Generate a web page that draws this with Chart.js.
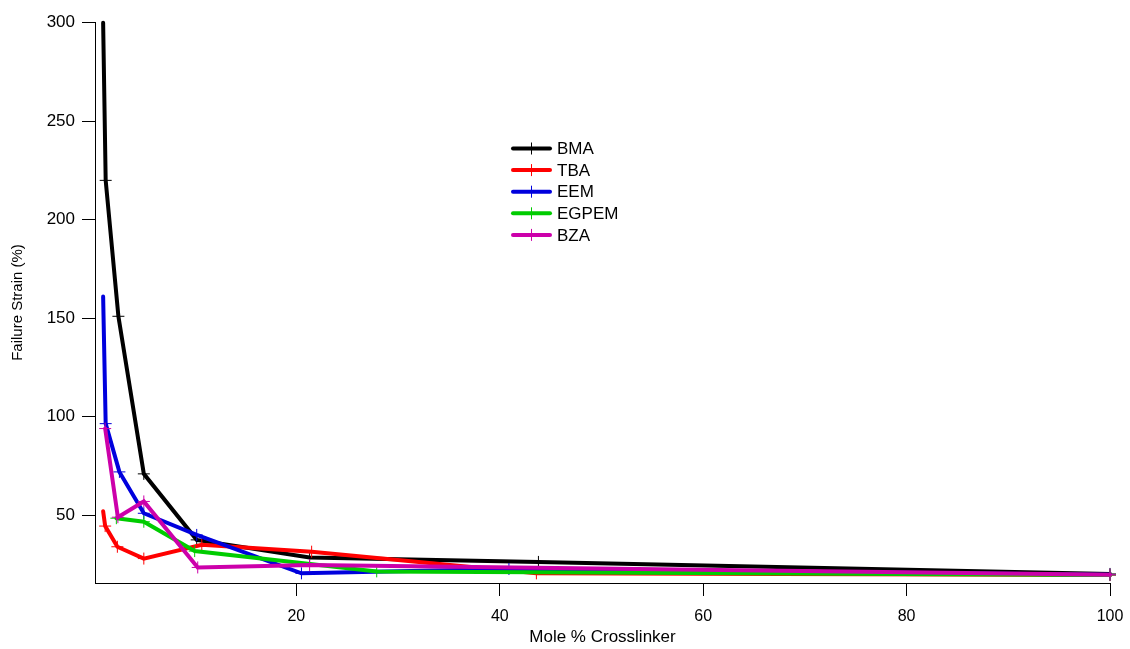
<!DOCTYPE html>
<html>
<head>
<meta charset="utf-8">
<script src="https://cdn.jsdelivr.net/npm/chart.js@4.4.1/dist/chart.umd.min.js"></script>
<style>
  html, body { margin: 0; padding: 0; background: #ffffff; }
  #wrap { width: 1130px; height: 649px; }
</style>
</head>
<body>
<div id="wrap"><canvas id="chart" width="1130" height="649"></canvas></div>
<script>
// Failure strain versus crosslinker content for five crosslinkers
const seriesNames = ['BMA', 'TBA', 'EEM', 'EGPEM', 'BZA'];
const seriesColors = ['#000000', '#ff0000', '#0000dd', '#00cc00', '#cc00aa'];

const bmaX = [1, 1.25, 2.5, 5, 10.2, 21.3, 43.8, 100];
const bmaY = [300, 220, 151, 71, 37.5, 28.6, 26.3, 20.2];

const tbaX = [1, 1.2, 2.4, 5, 10.7, 21.5, 43.6, 100];
const tbaY = [52, 44.5, 34, 28, 35, 31.5, 20.5, 19.6];

const eemX = [1, 1.25, 2.6, 5, 10.2, 20.5, 40.9, 100];
const eemY = [161, 96.5, 72, 51, 40, 20.5, 22.7, 19.8];

const egpemX = [2.3, 5, 10, 27.9, 100];
const egpemY = [48.5, 46.7, 31.8, 21.5, 19.7];

const bzaX = [1.2, 2.45, 5, 10.3, 21.3, 100];
const bzaY = [94, 49, 57, 23.5, 24.7, 19.8];

const xTicks = [20, 40, 60, 80, 100];
const yTicks = [50, 100, 150, 200, 250, 300];

const xValues = [bmaX, tbaX, eemX, egpemX, bzaX];
const yValues = [bmaY, tbaY, eemY, egpemY, bzaY];

// series whose first point is drawn without a cross marker
const noFirstMarker = ['BMA', 'TBA', 'EEM'];

const datasets = seriesNames.map((name, i) => ({
  label: name,
  data: xValues[i].map((x, j) => ({ x: x, y: yValues[i][j] })),
  borderColor: seriesColors[i],
  backgroundColor: seriesColors[i],
  borderWidth: 4,
  borderJoinStyle: 'miter',
  borderCapStyle: 'round',
  tension: 0,
  fill: false,
  showLine: true,
  pointStyle: 'cross',
  pointRadius: (c) => (c.dataIndex === 0 && noFirstMarker.includes(name)) ? 0 : 6,
  pointHoverRadius: 6,
  pointBorderWidth: 1,
  pointBorderColor: seriesColors[i],
  clip: false,
  order: seriesNames.length - i
}));

// Legend block with a line sample and a cross marker per series
const lineLegend = {
  id: 'lineLegend',
  afterDatasetsDraw(chart) {
    const ctx = chart.ctx;
    const x0 = 513, x1 = 550, xt = 557, y0 = 148.5, dy = 21.6;
    ctx.save();
    ctx.font = '17px "Liberation Sans", Arial, sans-serif';
    ctx.textBaseline = 'middle';
    ctx.textAlign = 'left';
    chart.data.datasets.forEach((ds, i) => {
      const y = y0 + i * dy;
      ctx.strokeStyle = ds.borderColor;
      ctx.lineWidth = 4;
      ctx.lineCap = 'round';
      ctx.beginPath();
      ctx.moveTo(x0, y);
      ctx.lineTo(x1, y);
      ctx.stroke();
      ctx.lineWidth = 1;
      ctx.lineCap = 'butt';
      ctx.beginPath();
      ctx.moveTo((x0 + x1) / 2, y - 6);
      ctx.lineTo((x0 + x1) / 2, y + 6);
      ctx.stroke();
      ctx.fillStyle = '#000000';
      ctx.fillText(ds.label, xt, y + 1);
    });
    ctx.restore();
  }
};

const whiteBackground = {
  id: 'whiteBackground',
  beforeDraw(chart) {
    const ctx = chart.ctx;
    ctx.save();
    ctx.fillStyle = '#ffffff';
    ctx.fillRect(0, 0, chart.width, chart.height);
    ctx.restore();
  }
};

new Chart(document.getElementById('chart'), {
  type: 'scatter',
  data: { datasets: datasets },
  plugins: [whiteBackground, lineLegend],
  options: {
    responsive: false,
    animation: false,
    events: [],
    layout: { padding: { top: 22, right: 20, left: 0, bottom: 0 } },
    plugins: {
      legend: { display: false },
      tooltip: { enabled: false }
    },
    scales: {
      x: {
        type: 'linear',
        min: 0.2,
        max: 100,
        afterBuildTicks(scale) { scale.ticks = xTicks.map(v => ({ value: v })); },
        afterFit(scale) {
          scale.height = 66;
          scale.paddingLeft = 0;
          scale.paddingRight = 0;
        },
        grid: {
          display: true,
          drawOnChartArea: false,
          drawTicks: true,
          tickLength: 13,
          tickColor: '#000000',
          tickWidth: 1
        },
        border: { display: true, color: '#000000', width: 1 },
        ticks: {
          color: '#000000',
          padding: 11,
          maxRotation: 0,
          font: { family: '"Liberation Sans", Arial, sans-serif', size: 16 }
        },
        title: {
          display: true,
          text: 'Mole % Crosslinker',
          color: '#000000',
          padding: { top: 0, bottom: 1 },
          font: { family: '"Liberation Sans", Arial, sans-serif', size: 17 }
        }
      },
      y: {
        type: 'linear',
        min: 15.6,
        max: 300.4,
        afterBuildTicks(scale) { scale.ticks = yTicks.map(v => ({ value: v })); },
        afterFit(scale) {
          scale.width = 95;
          scale.paddingTop = 0;
          scale.paddingBottom = 0;
        },
        grid: {
          display: true,
          drawOnChartArea: false,
          drawTicks: true,
          tickLength: 13,
          tickColor: '#000000',
          tickWidth: 1
        },
        border: { display: true, color: '#000000', width: 1 },
        ticks: {
          color: '#000000',
          padding: 7,
          font: { family: '"Liberation Sans", Arial, sans-serif', size: 17 }
        },
        title: {
          display: true,
          text: 'Failure Strain (%)',
          color: '#000000',
          padding: { top: 9, bottom: 0 },
          font: { family: '"Liberation Sans", Arial, sans-serif', size: 15 }
        }
      }
    }
  }
});
</script>
</body>
</html>
